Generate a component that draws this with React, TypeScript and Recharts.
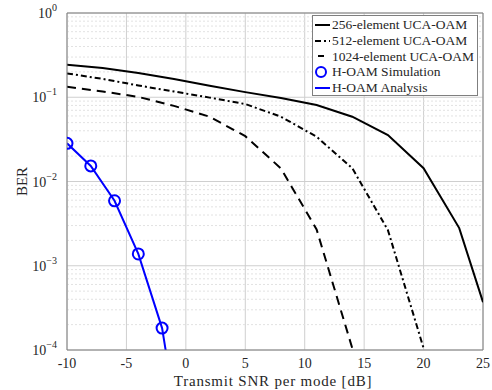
import { LineChart, Line, XAxis, YAxis, CartesianGrid, ReferenceLine } from 'recharts';

// SNR points (dB) for the UCA-OAM curves
const snrUca = [-10, -7, -4, -1, 2, 5, 8, 11, 14, 17, 20, 23, 25];
const ber256 = [0.243, 0.222, 0.194, 0.165, 0.137, 0.115, 0.098, 0.081, 0.0588, 0.0356, 0.0144, 0.0028, 0.00037];
const ber512 = [0.192, 0.165, 0.138, 0.117, 0.099, 0.083, 0.0588, 0.034, 0.0144, 0.00265, 0.000105];
const ber1024 = [0.133, 0.117, 0.101, 0.079, 0.0588, 0.0345, 0.0143, 0.0027, 0.000105];

// H-OAM
const snrHoam = [-10, -8, -6, -4, -2, 0];
const berHoamSim = [0.0284, 0.0153, 0.0059, 0.00138, 0.000182];
const berHoamAna = [0.0284, 0.0153, 0.0059, 0.00138, 0.000182, 0.0000033];

const xTicks = [-10, -5, 0, 5, 10, 15, 20, 25];
const yTicks = [1e-4, 1e-3, 1e-2, 1e-1, 1];

const serif = "'Liberation Serif', 'DejaVu Serif', serif";
const textColor = '#262626';
const frameColor = '#7f7f7f';
const blue = '#0000ff';

const toPoints = (xs: number[], ys: number[]) => ys.map((v, i) => ({ snr: xs[i], ber: v }));

// minor grid lines 2..9 x 10^k
const minorGrid: number[] = [];
for (let k = -4; k < 0; k++) {
  for (let m = 2; m <= 9; m++) minorGrid.push(m * Math.pow(10, k));
}

function PowerTick({ x, y, payload }: any) {
  const exp = Math.round(Math.log10(payload.value));
  return (
    <text x={x} y={y} textAnchor="end" fill={textColor} fontSize={14} fontFamily={serif}>
      <tspan dy={5}>10</tspan>
      <tspan dy={-7} fontSize={10}>{exp === 0 ? '0' : '\u2212' + Math.abs(exp)}</tspan>
    </text>
  );
}

function XTick({ x, y, payload }: any) {
  return (
    <text x={x} y={y} dy={10} textAnchor="middle" fill={textColor} fontSize={14} fontFamily={serif}>
      {payload.value}
    </text>
  );
}

const legendItems = [
  { label: '256-element UCA-OAM', color: '#000', dash: undefined as string | undefined, marker: false },
  { label: '512-element UCA-OAM', color: '#000', dash: '6 3 2 3', marker: false },
  { label: '1024-element UCA-OAM', color: '#000', dash: '0 3 6 20', marker: false },
  { label: 'H-OAM Simulation', color: blue, dash: undefined, marker: true },
  { label: 'H-OAM Analysis', color: blue, dash: undefined, marker: false },
];

function LegendBox() {
  return (
    <div
      style={{
        position: 'absolute',
        left: 312,
        top: 15,
        width: 166,
        height: 81,
        boxSizing: 'border-box',
        border: `1px solid ${frameColor}`,
        background: '#fff',
        fontFamily: serif,
        fontSize: 13.5,
        color: textColor,
        paddingTop: 1,
      }}
    >
      {legendItems.map((it) => (
        <div key={it.label} style={{ display: 'flex', alignItems: 'center', height: 15.8 }}>
          <svg width={19} height={14} style={{ flex: 'none' }}>
            {it.marker ? (
              <circle cx={8} cy={7} r={5} fill="none" stroke={blue} strokeWidth={2} />
            ) : (
              <line x1={2} x2={17} y1={7} y2={7} stroke={it.color} strokeWidth={2} strokeDasharray={it.dash} />
            )}
          </svg>
          <span style={{ whiteSpace: 'nowrap' }}>{it.label}</span>
        </div>
      ))}
    </div>
  );
}

export default function App() {
  return (
    <div style={{ position: 'absolute', left: 0, top: 0, width: 492, height: 390, background: '#fff' }}>
      <LineChart width={492} height={390} margin={{ top: 13, right: 9, left: 0, bottom: 0 }}>
        <CartesianGrid stroke="#cfcfcf" strokeWidth={1} />
        {minorGrid.map((v) => (
          <ReferenceLine key={v} y={v} stroke="#e2e2e2" strokeDasharray="2 2" />
        ))}
        <XAxis
          type="number"
          dataKey="snr"
          domain={[-10, 25]}
          ticks={xTicks}
          allowDataOverflow
          height={40}
          stroke={frameColor}
          tickLine={false}
          tick={<XTick />}
          label={{
            content: (props: any) => {
              const vb = props.viewBox;
              return (
                <text
                  x={vb.x + vb.width / 2 - 2}
                  y={vb.y + 36}
                  textAnchor="middle"
                  fill={textColor}
                  fontSize={15}
                  letterSpacing={0.8}
                  fontFamily={serif}
                >
                  Transmit SNR per mode [dB]
                </text>
              );
            },
          }}
        />
        <YAxis
          type="number"
          dataKey="ber"
          scale="log"
          domain={[1e-4, 1]}
          ticks={yTicks}
          allowDataOverflow
          width={67}
          stroke={frameColor}
          tickLine={false}
          tickMargin={4}
          tick={<PowerTick />}
          label={{
            content: (props: any) => {
              const vb = props.viewBox;
              const cx = 22;
              const cy = vb.y + vb.height / 2;
              return (
                <text
                  x={cx}
                  y={cy}
                  transform={`rotate(-90 ${cx} ${cy})`}
                  textAnchor="middle"
                  dominantBaseline="central"
                  fill={textColor}
                  fontSize={15}
                  fontFamily={serif}
                >
                  BER
                </text>
              );
            },
          }}
        />
        <ReferenceLine y={1} stroke={frameColor} />
        <ReferenceLine x={25} stroke={frameColor} />
        <Line
          data={toPoints(snrUca, ber256)}
          dataKey="ber"
          stroke="#000"
          strokeWidth={2}
          dot={false}
          isAnimationActive={false}
        />
        <Line
          data={toPoints(snrUca, ber512)}
          dataKey="ber"
          stroke="#000"
          strokeWidth={2}
          strokeDasharray="6 3 2 3"
          dot={false}
          isAnimationActive={false}
        />
        <Line
          data={toPoints(snrUca, ber1024)}
          dataKey="ber"
          stroke="#000"
          strokeWidth={2}
          strokeDasharray="9 6"
          dot={false}
          isAnimationActive={false}
        />
        <Line
          data={toPoints(snrHoam, berHoamAna)}
          dataKey="ber"
          stroke={blue}
          strokeWidth={2}
          dot={false}
          isAnimationActive={false}
        />
        <Line
          data={toPoints(snrHoam, berHoamSim)}
          dataKey="ber"
          stroke="none"
          dot={{ r: 5.5, stroke: blue, strokeWidth: 2, fill: 'none' }}
          isAnimationActive={false}
        />
      </LineChart>
      <LegendBox />
    </div>
  );
}
